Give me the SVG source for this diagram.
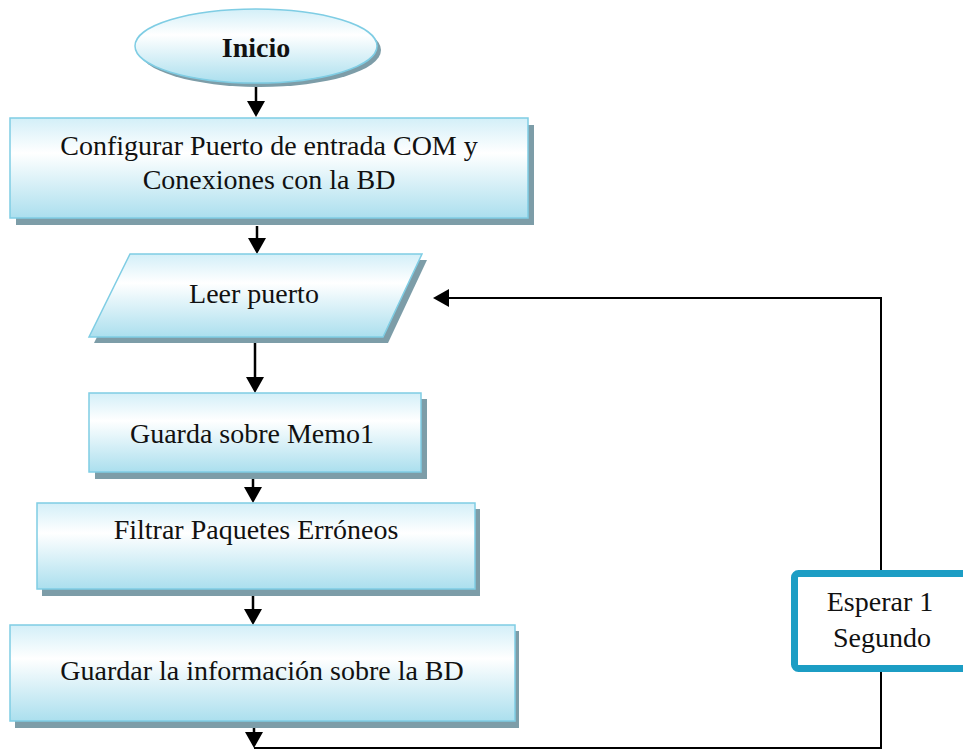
<svg xmlns="http://www.w3.org/2000/svg" width="963" height="750" viewBox="0 0 963 750">
<style>
.node{fill:url(#g);stroke:#7fcde4;stroke-width:1.5}
.sh{fill:#7d9da8}
.t{font-family:"Liberation Serif","Times New Roman",serif;font-size:28px;fill:#111;text-anchor:middle}
.c{fill:none;stroke:#000;stroke-width:2.5}
.l{fill:none;stroke:#000;stroke-width:2}
</style>
<defs>
<linearGradient id="g" x1="0" y1="0" x2="0" y2="1">
<stop offset="0" stop-color="#d3eff8"/>
<stop offset="0.35" stop-color="#ffffff"/>
<stop offset="1" stop-color="#abdfee"/>
</linearGradient>
<marker id="ah" markerUnits="userSpaceOnUse" markerWidth="18" markerHeight="18" refX="13" refY="9" orient="auto" viewBox="0 0 18 18">
<path d="M0,0 L16,9 L0,18 Z" fill="#000"/>
</marker>
</defs>
<rect width="963" height="750" fill="#fff"/>
<g id="connectors">
<line class="c" x1="256" y1="84" x2="256" y2="114" marker-end="url(#ah)"/>
<line class="c" x1="257" y1="226" x2="257" y2="251" marker-end="url(#ah)"/>
<line class="c" x1="255" y1="337" x2="255" y2="390" marker-end="url(#ah)"/>
<line class="c" x1="253" y1="472" x2="253" y2="500" marker-end="url(#ah)"/>
<line class="c" x1="253" y1="590" x2="253" y2="622" marker-end="url(#ah)"/>
<line class="c" x1="254" y1="720" x2="254" y2="745" marker-end="url(#ah)"/>
<path class="l" d="M254,748 H881 V298 H436" marker-end="url(#ah)"/>
</g>
<g id="inicio">
<ellipse class="sh" cx="260" cy="50" rx="121" ry="37"/>
<ellipse class="node" cx="256" cy="46" rx="121" ry="37"/>
<text class="t" x="256" y="57" font-weight="bold" font-size="26">Inicio</text>
</g>
<g id="configurar">
<rect class="sh" x="16" y="125" width="518" height="100"/>
<rect class="node" x="10" y="118" width="518" height="100"/>
<text class="t" x="269" y="155" font-size="28.5">Configurar Puerto de entrada COM y</text>
<text class="t" x="269" y="189" font-size="28.5">Conexiones con la BD</text>
</g>
<g id="leer">
<polygon class="sh" points="135,260 427,260 388,343 94,343"/>
<polygon class="node" points="130,254 422,254 383,337 89,337"/>
<text class="t" x="254" y="303">Leer puerto</text>
</g>
<g id="memo">
<rect class="sh" x="95" y="399" width="332" height="80"/>
<rect class="node" x="89" y="393" width="332" height="79"/>
<text class="t" x="252" y="443">Guarda sobre Memo1</text>
</g>
<g id="filtrar">
<rect class="sh" x="42" y="509" width="438" height="87"/>
<rect class="node" x="37" y="503" width="438" height="86"/>
<text class="t" x="256" y="539">Filtrar Paquetes Erróneos</text>
</g>
<g id="guardar">
<rect class="sh" x="15" y="631" width="504" height="97"/>
<rect class="node" x="10" y="625" width="505" height="96"/>
<text class="t" x="262" y="680">Guardar la información sobre la BD</text>
</g>
<g id="esperar">
<rect x="794.5" y="573.5" width="210" height="95" rx="4" fill="#fff" stroke="#1c9dc4" stroke-width="7"/>
<text class="t" x="880" y="611">Esperar 1</text>
<text class="t" x="882" y="647">Segundo</text>
</g>
</svg>
